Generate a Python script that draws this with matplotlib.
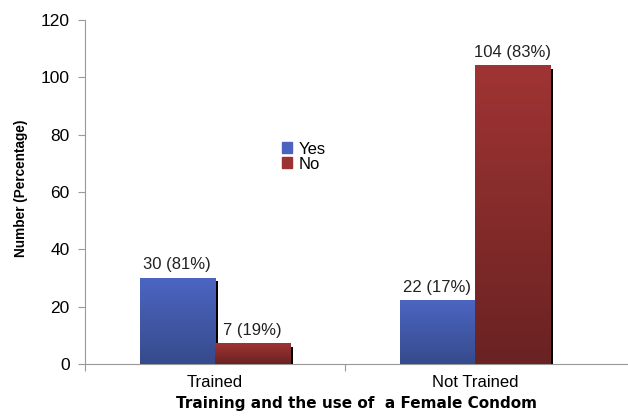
import numpy as np
import matplotlib.pyplot as plt
from matplotlib.colors import LinearSegmentedColormap
from matplotlib.patches import Patch

plt.rcParams['font.family'] = ['Liberation Sans', 'DejaVu Sans']

categories = ["Trained", "Not Trained"]
yes_counts = [30, 22]
no_counts = [7, 104]
yes_labels = ["30 (81%)", "22 (17%)"]
no_labels = ["7 (19%)", "104 (83%)"]

fig = plt.figure(figsize=(6.28, 4.18), dpi=100)
ax = fig.add_axes([85 / 628, 54 / 418, 543 / 628, 344 / 418])

blue_cmap = LinearSegmentedColormap.from_list("blue", ["#364b8c", "#4c65c2"])
red_cmap = LinearSegmentedColormap.from_list("red", ["#6a2222", "#a03434"])

width = 0.29
x = np.arange(len(categories))
grad = np.linspace(0, 1, 256).reshape(-1, 1)


def gradient_bar(x0, h, cmap):
    # shadow on the right side
    ax.bar(x0 + width / 2 + 0.005, h - 1.2, width=0.01, bottom=0,
           color="black", zorder=2)
    ax.imshow(grad, extent=[x0 - width / 2, x0 + width / 2, 0, h],
              origin="lower", aspect="auto", cmap=cmap, zorder=3)


for i in range(len(categories)):
    gradient_bar(x[i] - width / 2, yes_counts[i], blue_cmap)
    gradient_bar(x[i] + width / 2, no_counts[i], red_cmap)
    ax.text(x[i] - width / 2, yes_counts[i] + 2.2, yes_labels[i],
            ha="center", va="bottom", fontsize=12, color="#222222")
    ax.text(x[i] + width / 2, no_counts[i] + 2.2, no_labels[i],
            ha="center", va="bottom", fontsize=12, color="#222222")

ax.set_xlim(-0.5, 1.5 + 23 / 260)
ax.set_ylim(0, 120)
ax.set_yticks(range(0, 121, 20))
ax.set_xticks([-0.5, 0.5], minor=False)
ax.set_xticklabels([])
ax.set_xticks(x, minor=True)
ax.set_xticklabels(categories, minor=True, fontsize=12)
ax.tick_params(axis="x", which="minor", length=0, pad=8)
ax.tick_params(axis="x", which="major", length=5, color="#999999")
ax.tick_params(axis="y", length=5, color="#999999", labelsize=12.5, pad=6)

for s in ["top", "right"]:
    ax.spines[s].set_visible(False)
for s in ["left", "bottom"]:
    ax.spines[s].set_color("#999999")

ax.set_ylabel("Number (Percentage)", fontsize=9.8, fontweight="bold", labelpad=11,
              family=["Liberation Sans Narrow", "Liberation Sans"])
ax.yaxis.set_label_coords(-0.105, 0.51)
ax.set_xlabel("Training and the use of  a Female Condom", fontsize=11,
              fontweight="bold", labelpad=4, family="DejaVu Sans")

handles = [Patch(color="#4a63bf"), Patch(color="#9c3232")]
ax.legend(handles, ["Yes", "No"], loc="upper left", bbox_to_anchor=(0.335, 0.69),
          frameon=False, fontsize=12, handlelength=0.6, handleheight=0.6,
          handletextpad=0.4, labelspacing=0.0)

plt.savefig("out.png", dpi=100)
